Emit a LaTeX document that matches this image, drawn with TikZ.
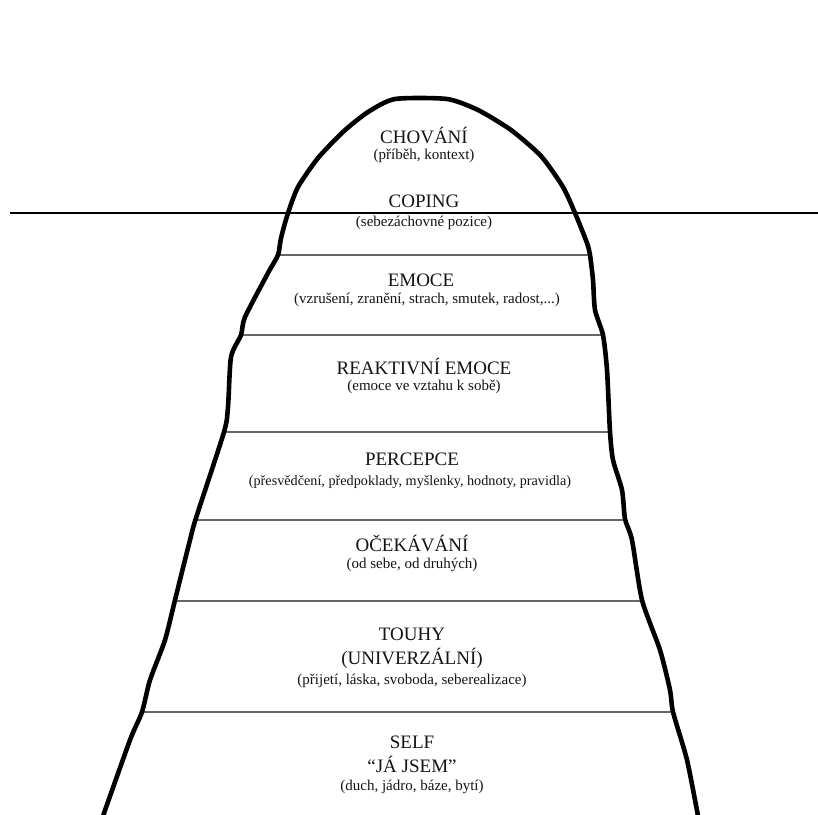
\documentclass[tikz,border=0pt]{standalone}
\usepackage{fontspec}
\setmainfont{Liberation Serif}
\begin{document}
\begin{tikzpicture}[x=1pt,y=-1pt,
  ttl/.style={font=\fontsize{19}{21}\selectfont, text=black!92, inner sep=0pt, anchor=center},
  sub/.style={font=\fontsize{15}{17}\selectfont, text=black!92, inner sep=0pt, anchor=center},
  sep/.style={draw=black!60, line width=1.6pt},
  water/.style={draw=black, line width=1.7pt},
  outline/.style={draw=black, line width=4.6pt, line join=round, line cap=round}]
\useasboundingbox[fill=white] (0,0) rectangle (818,814);

% separators
\draw[sep] (278,255) -- (590,255);
\draw[sep] (241,335) -- (603,335);
\draw[sep] (224,432) -- (610,432);
\draw[sep] (196,520) -- (625,520);
\draw[sep] (174,601) -- (642,601);
\draw[sep] (141,712) -- (673,712);

% water line
\coordinate (wl) at (10,213);
\coordinate (wr) at (818,213);
\draw[water] (wl) -- (wr);

% iceberg outline
\draw[outline] plot[smooth, tension=0.4] coordinates {
 (103,816) (130,740) (142,712) (150,680) (165,640) (175,600) (190,540) (196,518)
 (224,432) (228,407) (231,357) (241,335) (245,317) (268,273) (278,255) (281,238)
 (288,213) (298,187) (318,158) (344,131) (368,112) (395,99) (447,99) (478,110)
 (511,130) (541,156) (563,187) (575,213) (587,243) (590,255) (593,280) (595,310)
 (603,335) (607,370) (610,432) (613,460) (622,490) (625,519) (632,540) (642,600)
 (660,650) (670,690) (673,712) (687,760) (698,816)};

% texts
\node[ttl] (t1) at (424,135) {CHOVÁNÍ};
\node[sub] (s1) at (424,156) {(příběh, kontext)};
\node[ttl] (t2) at (424,201) {COPING};
\node[sub] (s2) at (424,223) {(sebezáchovné pozice)};
\node[ttl] (t3) at (421,280) {EMOCE};
\node[sub] (s3) at (427,300) {(vzrušení, zranění, strach, smutek, radost,...)};
\node[ttl] (t4) at (424,366) {REAKTIVNÍ EMOCE};
\node[sub] (s4) at (424,387) {(emoce ve vztahu k sobě)};
\node[ttl] (t5) at (412,459) {PERCEPCE};
\node[sub] (s5) at (410,482) {\fontsize{14.2}{17}\selectfont(přesvědčení, předpoklady, myšlenky, hodnoty, pravidla)};
\node[ttl] (t6) at (412,543) {OČEKÁVÁNÍ};
\node[sub] (s6) at (412,565) {(od sebe, od druhých)};
\node[ttl] (t7) at (412,634) {TOUHY};
\node[ttl] (t8) at (412,658) {(UNIVERZÁLNÍ)};
\node[sub] (s7) at (412,681) {(přijetí, láska, svoboda, seberealizace)};
\node[ttl] (t9) at (412,742) {SELF};
\node[ttl] (t10) at (412,764) {“JÁ JSEM”};
\node[sub] (s8) at (412,787) {(duch, jádro, báze, bytí)};
\end{tikzpicture}
\end{document}
